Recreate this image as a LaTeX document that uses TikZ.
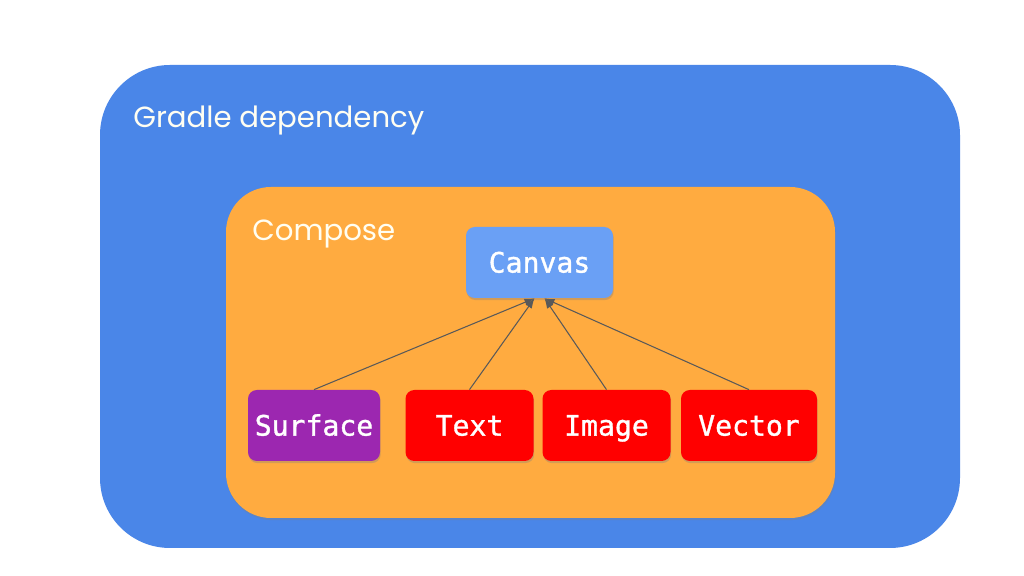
\documentclass[tikz,border=0pt]{standalone}
\usepackage{fontspec}
\setmainfont{Poppins}
\setmonofont[FakeBold=1.2]{DejaVu Sans Mono}
\usepackage{xcolor}
\definecolor{gradleblue}{HTML}{4A86E8}
\definecolor{composeorange}{HTML}{FFAB40}
\definecolor{canvasblue}{HTML}{6AA0F5}
\definecolor{surfacepurple}{HTML}{9C27B0}
\definecolor{widgetred}{HTML}{FF0000}
\definecolor{arrowgrey}{HTML}{595959}
\usepackage{tikz}
\usetikzlibrary{positioning,arrows.meta,shadows}
\tikzset{
  layer/.style  ={rectangle,draw=none,inner sep=0pt},
  widget/.style ={rectangle,rounded corners=5pt,draw=none,text=white,
                  minimum height=14.2mm,minimum width=25.6mm,
                  text height=11.5pt,text depth=0pt,
                  font=\ttfamily\fontsize{16}{16}\selectfont,
                  drop shadow={opacity=0.35,shadow xshift=0.4pt,shadow yshift=-1.2pt}},
  title/.style  ={anchor=base west,text=white!95!yellow,inner sep=0pt,
                  font=\fontsize{16.6}{16.6}\selectfont},
  uses/.style   ={-{Latex[length=2mm,width=1.5mm]},draw=arrowgrey,line width=0.6pt},
}
\begin{document}
\begin{tikzpicture}
  \useasboundingbox[fill=white] (0,0) rectangle (20.48,11.52);
  % ---- containers -----------------------------------------------------
  \node[layer,fill=gradleblue,rounded corners=14mm,minimum width=172mm,
        minimum height=96.6mm] (gradle) at (10.6,5.39) {};
  \node[layer,fill=composeorange,rounded corners=9mm,minimum width=121.8mm,
        minimum height=66.2mm,
        drop shadow={opacity=0.3,shadow xshift=0.4pt,shadow yshift=-1.2pt}] (compose) at (10.61,4.47) {};
  \node[title] (gradlelbl) at (2.66,8.96) {Gradle dependency};
  \node[title] (composelbl) at (5.04,6.70) {Compose};

  % ---- widgets ----------------------------------------------------------
  \node[widget,fill=canvasblue,minimum width=29.4mm] (canvas) at (10.79,6.27) {Canvas};
  \node[widget,fill=surfacepurple,minimum width=26.4mm] (surface) at (6.28,3.01) {Surface};
  \node[widget,fill=widgetred] (text) at (9.39,3.01) {Text};
  \node[widget,fill=widgetred] (image) at (12.13,3.01) {Image};
  \node[widget,fill=widgetred,minimum width=27.2mm] (vector) at (14.98,3.01) {Vector};

  \draw[uses] (surface.north) -- ([xshift=-1mm]canvas.south);
  \draw[uses] (text.north) -- ([xshift=-1mm]canvas.south);
  \draw[uses] (image.north) -- ([xshift=1mm]canvas.south);
  \draw[uses] (vector.north) -- ([xshift=1mm]canvas.south);
\end{tikzpicture}
\end{document}
